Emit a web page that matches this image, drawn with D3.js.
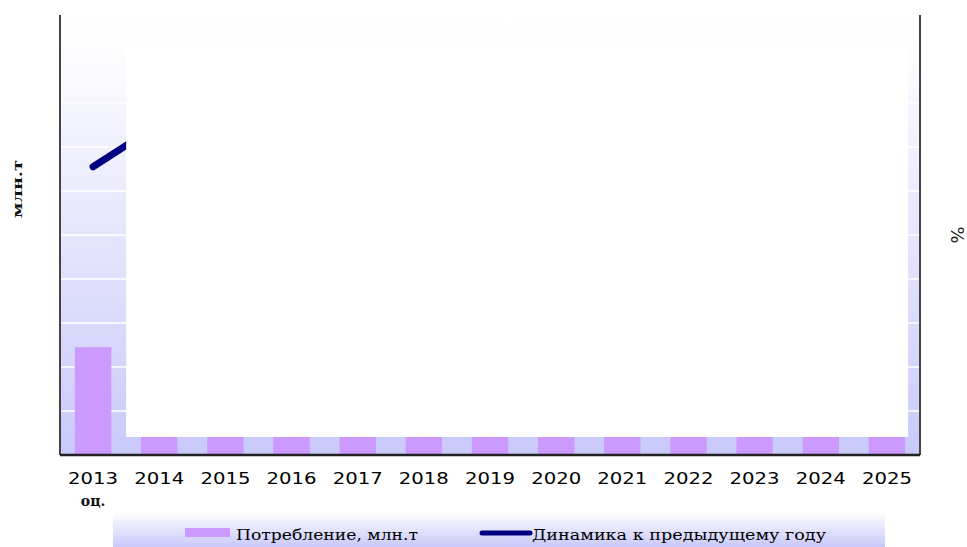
<!DOCTYPE html>
<html><head><meta charset="utf-8">
<script src="https://cdn.jsdelivr.net/npm/d3@7"></script>
<style>body{margin:0;background:#fff}svg{display:block}</style>
</head><body>
<svg id="c" width="967" height="547"></svg>
<script>
const categories = ["2013","2014","2015","2016","2017","2018","2019","2020","2021","2022","2023","2024","2025"];
const subLabels = ["оц.","","","","","","","","","","","",""];
const consumption = [2.45,0.41,0.41,0.41,0.41,0.41,0.41,0.41,0.41,0.41,0.41,0.41,0.41];
const dynamicsCats = ["2013","2014"];
const dynamics = [6.55,7.52];
const yTicks = [0,1,2,3,4,5,6,7,8,9,10];
const seriesNames = ["Потребление, млн.т","Динамика к предыдущему году"];

const svg = d3.select("#c");
const L = 60, R = 920, T = 15, B = 455;
const x = d3.scaleBand().domain(categories).range([L, R]).paddingInner(0).paddingOuter(0);
const step = x.step();
const y = d3.scaleLinear().domain([0, 10]).range([B, T]);
const y2 = d3.scaleLinear().domain([0, 10]).range([B, T]);

const defs = svg.append("defs");
const g1 = defs.append("linearGradient").attr("id","bg").attr("x1",0).attr("y1",0).attr("x2",0).attr("y2",1);
g1.append("stop").attr("offset","0%").attr("stop-color","#ffffff");
g1.append("stop").attr("offset","8%").attr("stop-color","#fdfdff");
g1.append("stop").attr("offset","100%").attr("stop-color","#c9c9fb");
const g2 = defs.append("linearGradient").attr("id","lg").attr("x1",0).attr("y1",0).attr("x2",0).attr("y2",1);
g2.append("stop").attr("offset","0%").attr("stop-color","#ffffff");
g2.append("stop").attr("offset","100%").attr("stop-color","#c8c8fa");

// plot background
svg.append("rect").attr("x",L).attr("y",T).attr("width",R-L).attr("height",B-T).attr("fill","url(#bg)");

// gridlines
svg.append("g").selectAll("line").data(yTicks.slice(1)).join("line")
  .attr("x1",L).attr("x2",R).attr("y1",d=>y(d)).attr("y2",d=>y(d))
  .attr("stroke","#ffffff").attr("stroke-width",1.6);

// bars
const bw = step*0.55;
svg.append("g").selectAll("rect").data(categories).join("rect")
  .attr("x",d=>x(d)+(step-bw)/2).attr("width",bw)
  .attr("y",(d,i)=>y(consumption[i])).attr("height",(d,i)=>B-y(consumption[i]))
  .attr("fill","#cc99ff");

// line
const line = d3.line().x(d=>x(d[0])+step/2).y(d=>y2(d[1]));
svg.append("path").datum(dynamicsCats.map((c,i)=>[c,dynamics[i]]))
  .attr("d",line).attr("fill","none").attr("stroke","#000080")
  .attr("stroke-width",7).attr("stroke-linecap","round");

// white overlay box (as in reference)
const wx0 = x("2014"), wx1 = x("2025")+step*0.82, wy0 = y(9.25), wy1 = y(consumption[1]);
svg.append("rect").attr("x",wx0).attr("y",wy0).attr("width",wx1-wx0).attr("height",wy1-wy0).attr("fill","#ffffff");

// axes lines
svg.append("line").attr("x1",L).attr("x2",L).attr("y1",T).attr("y2",B).attr("stroke","#444").attr("stroke-width",2);
svg.append("line").attr("x1",R).attr("x2",R).attr("y1",T).attr("y2",B).attr("stroke","#444").attr("stroke-width",2);

const xAxis = d3.axisBottom(x).tickSize(0).tickPadding(0);
const ax = svg.append("g").attr("transform",`translate(0,${B})`).call(xAxis);
ax.select(".domain").attr("stroke","#222").attr("stroke-width",2.5).attr("d",`M${L},0H${R}`);
ax.selectAll(".tick text").attr("y",29).attr("dy",0)
  .attr("font-family","DejaVu Sans").attr("font-size",16).attr("fill","#000")
  .attr("textLength",50).attr("lengthAdjust","spacingAndGlyphs");
ax.selectAll(".tick").append("text").text((d,i)=>subLabels[i])
  .attr("y",51).attr("text-anchor","middle").attr("fill","#111")
  .attr("font-family","DejaVu Serif").attr("font-weight","bold").attr("font-size",14);

// axis titles
svg.append("text").text("млн.т").attr("transform","translate(22,189) rotate(-90)")
  .attr("text-anchor","middle").attr("font-family","DejaVu Serif").attr("font-weight","bold")
  .attr("font-size",13).attr("fill","#111")
  .attr("textLength",58).attr("lengthAdjust","spacingAndGlyphs");
svg.append("text").text("%").attr("transform","translate(951,235) rotate(90)")
  .attr("text-anchor","middle").attr("font-family","DejaVu Sans").attr("font-size",18).attr("fill","#222");

// legend
svg.append("rect").attr("x",113).attr("y",512).attr("width",772).attr("height",35).attr("fill","url(#lg)");
const lg = svg.append("g");
lg.append("rect").attr("x",185).attr("y",528).attr("width",45).attr("height",9).attr("fill","#cc99ff");
lg.append("text").text(seriesNames[0]).attr("x",236).attr("y",540)
  .attr("font-family","DejaVu Serif").attr("font-size",15).attr("fill","#000")
  .attr("textLength",182).attr("lengthAdjust","spacingAndGlyphs");
lg.append("line").attr("x1",482).attr("x2",530).attr("y1",533).attr("y2",533)
  .attr("stroke","#000080").attr("stroke-width",5).attr("stroke-linecap","round");
lg.append("text").text(seriesNames[1]).attr("x",532).attr("y",540)
  .attr("font-family","DejaVu Serif").attr("font-size",15).attr("fill","#000")
  .attr("textLength",294).attr("lengthAdjust","spacingAndGlyphs");
</script>
</body></html>
